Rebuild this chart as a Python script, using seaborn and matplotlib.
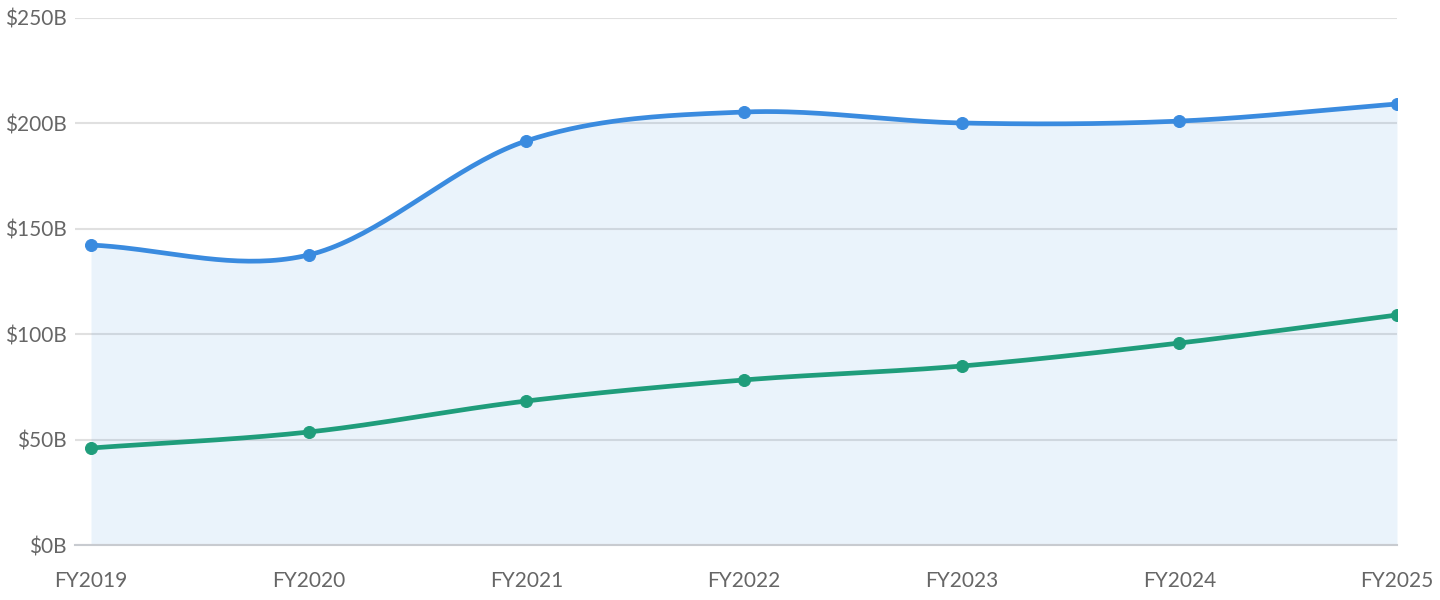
import numpy as np
import pandas as pd
import matplotlib
matplotlib.use("Agg")
import matplotlib.pyplot as plt
import seaborn as sns

years = ["FY2019", "FY2020", "FY2021", "FY2022", "FY2023", "FY2024", "FY2025"]
revenue = [142.3, 137.6, 191.7, 205.4, 200.2, 201.1, 209.2]
net_income = [46.0, 53.6, 68.3, 78.3, 84.9, 95.8, 109.1]
y_ticks = [0, 50, 100, 150, 200, 250]

BLUE = "#3A8BDF"
GREEN = "#1F9D7B"


def smooth(values, steps=40):
    # catmull-rom style curve through the points
    p = np.asarray(values, dtype=float)
    n = len(p)
    m = np.zeros(n)
    m[0] = p[1] - p[0]
    m[-1] = p[-1] - p[-2]
    m[1:-1] = (p[2:] - p[:-2]) / 2
    xs, ys = [], []
    for i in range(n - 1):
        t = np.linspace(0, 1, steps, endpoint=(i == n - 2))
        h00 = 2 * t**3 - 3 * t**2 + 1
        h10 = t**3 - 2 * t**2 + t
        h01 = -2 * t**3 + 3 * t**2
        h11 = t**3 - t**2
        xs.append(i + t)
        ys.append(h00 * p[i] + h10 * m[i] + h01 * p[i + 1] + h11 * m[i + 1])
    return np.concatenate(xs), np.concatenate(ys)


sns.set_theme(style="white")
plt.rcParams["font.family"] = ["Lato", "DejaVu Sans"]

fig = plt.figure(figsize=(14.4, 6), dpi=100)
ax = fig.add_axes([75 / 1440, 55 / 600, (1397 - 75) / 1440, 527 / 600])

bx, by = smooth(revenue)
gx, gy = smooth(net_income)

ax.fill_between(bx, 0, by, color=BLUE, alpha=0.1, linewidth=0, zorder=2)
sns.lineplot(x=bx, y=by, ax=ax, color=BLUE, linewidth=3.4, sort=False, zorder=3)
sns.lineplot(x=gx, y=gy, ax=ax, color=GREEN, linewidth=3.4, sort=False, zorder=3)

idx = np.arange(len(years))
sns.scatterplot(x=idx, y=revenue, ax=ax, color=BLUE, s=75, edgecolor=BLUE, zorder=4)
sns.scatterplot(x=idx, y=net_income, ax=ax, color=GREEN, s=75, edgecolor=GREEN, zorder=4)

ax.set_xlim(-16 / 217.67, 6)
ax.set_ylim(0, 250)
ax.set_xticks(idx)
ax.set_xticklabels(years)
ax.set_yticks(y_ticks)
ax.set_yticklabels([f"${v}B" for v in y_ticks])
ax.yaxis.grid(True, color="#E0E0E0", linewidth=1.5, zorder=1)
ax.set_axisbelow(True)

for side in ["top", "right", "left"]:
    ax.spines[side].set_visible(False)
ax.spines["bottom"].set_color("#C8CBD0")
ax.spines["bottom"].set_linewidth(1.5)
ax.tick_params(axis="both", length=0, labelsize=15, labelcolor="#666666")
ax.tick_params(axis="y", pad=6)
ax.tick_params(axis="x", pad=19)
ax.set_xlabel("")
ax.set_ylabel("")

fig.savefig("out.png", dpi=100)
